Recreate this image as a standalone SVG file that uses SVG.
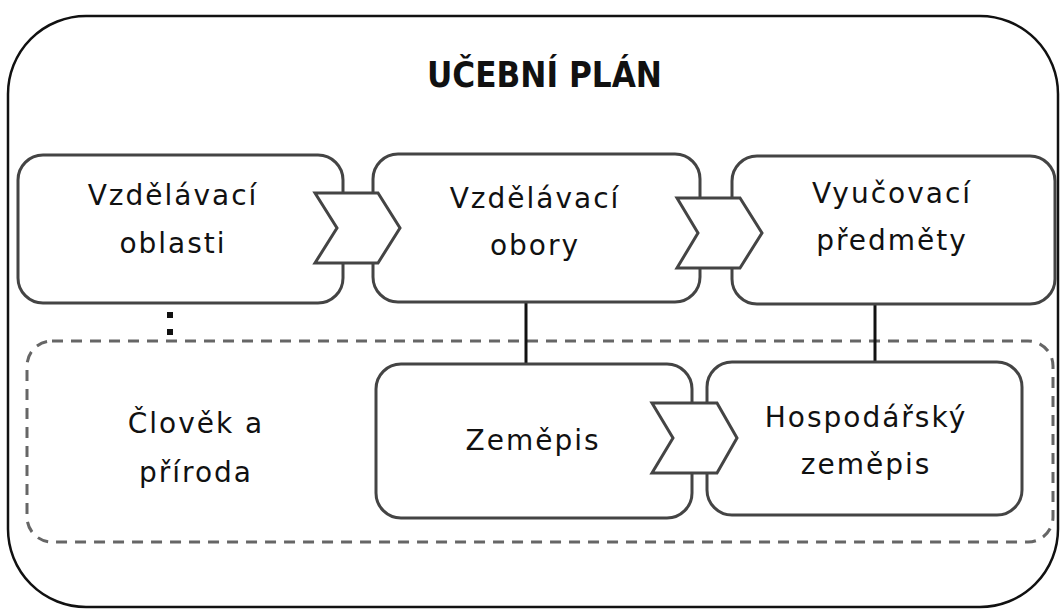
<svg xmlns="http://www.w3.org/2000/svg" width="1060" height="610" viewBox="0 0 1060 610">
<style>
.box{fill:#fff;stroke:#444;stroke-width:3}
.chev{fill:#fff;stroke:#444;stroke-width:3;stroke-linejoin:miter}
.lbl{font-family:"DejaVu Sans",sans-serif;font-size:28px;letter-spacing:2px;fill:#111;text-anchor:middle}
.title{font-family:"DejaVu Sans Condensed","DejaVu Sans",sans-serif;font-stretch:condensed;font-weight:bold;font-size:36px;fill:#111}
.conn{stroke:#111;stroke-width:3;fill:none}
</style>
<rect width="1060" height="610" fill="#fff"/>
<g id="frame">
<rect x="8" y="16" width="1050" height="591" rx="78" ry="78" fill="#fff" stroke="#111" stroke-width="2.5"/>
<text class="title" x="427" y="87" textLength="235" lengthAdjust="spacingAndGlyphs">UČEBNÍ PLÁN</text>
</g>
<g id="group-clovek-a-priroda">
<rect x="27" y="341" width="1026" height="201" rx="25" ry="25" fill="none" stroke="#666" stroke-width="3" stroke-dasharray="11 8"/>
<text class="lbl" x="196" y="433">Člověk a</text>
<text class="lbl" x="196" y="482">příroda</text>
</g>
<g id="connectors">
<line class="conn" x1="526" y1="302" x2="526" y2="364"/>
<line class="conn" x1="875" y1="304" x2="875" y2="362"/>
<line x1="170" y1="312" x2="170" y2="336" stroke="#111" stroke-width="6" stroke-dasharray="6 11"/>
</g>
<g id="node-oblasti">
<rect class="box" x="18" y="155" width="325" height="148" rx="25"/>
<text class="lbl" x="173" y="205">Vzdělávací</text>
<text class="lbl" x="173" y="253">oblasti</text>
</g>
<g id="node-obory">
<rect class="box" x="373" y="154" width="327" height="148" rx="25"/>
<text class="lbl" x="535" y="208">Vzdělávací</text>
<text class="lbl" x="535" y="255">obory</text>
</g>
<g id="node-predmety">
<rect class="box" x="732" y="156" width="323" height="148" rx="25"/>
<text class="lbl" x="892" y="203">Vyučovací</text>
<text class="lbl" x="892" y="250">předměty</text>
</g>
<g id="node-zemepis">
<rect class="box" x="376" y="364" width="316" height="154" rx="25"/>
<text class="lbl" x="533" y="450">Zeměpis</text>
</g>
<g id="node-hospodarsky">
<rect class="box" x="707" y="362" width="315" height="153" rx="25"/>
<text class="lbl" x="866" y="427">Hospodářský</text>
<text class="lbl" x="866" y="474">zeměpis</text>
</g>
<g id="arrows">
<polygon class="chev" points="315,193 378,193 400,228 378,263 315,263 337,228"/>
<polygon class="chev" points="677,198 740,198 762,233 740,268 677,268 698,233"/>
<polygon class="chev" points="652,403 717,403 737,438 717,473 652,473 673,438"/>
</g>
</svg>
